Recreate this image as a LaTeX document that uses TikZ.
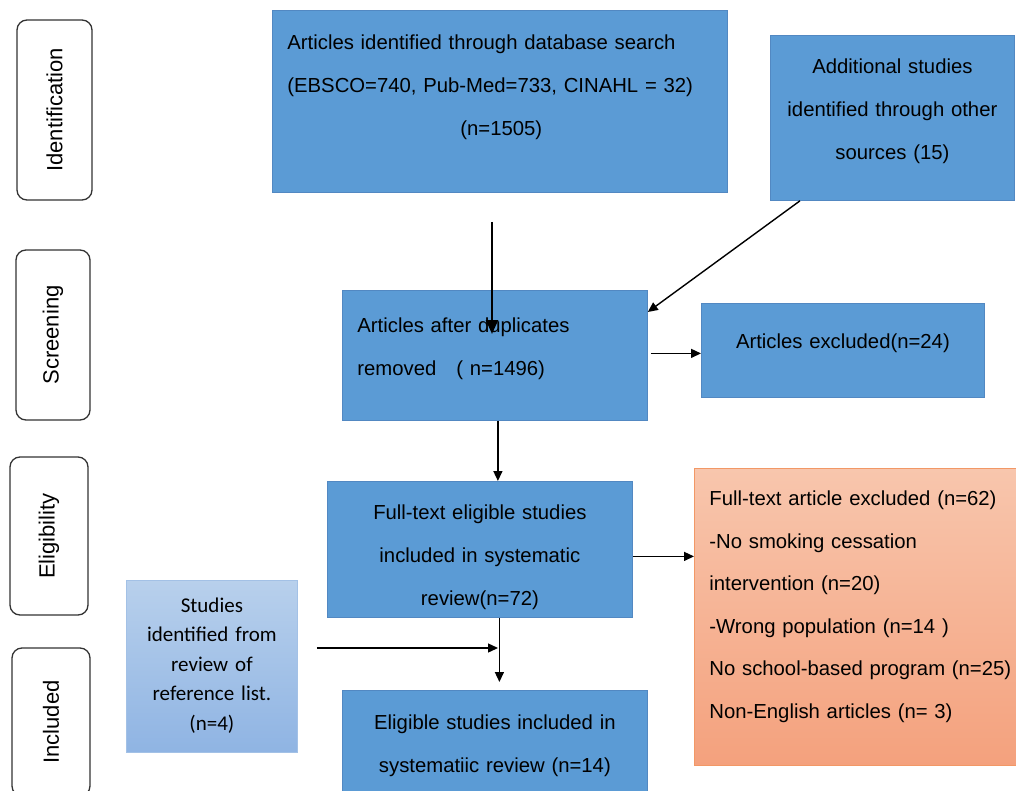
\documentclass[tikz,border=0pt]{standalone}
\usepackage{fontspec}
\setmainfont{Liberation Sans}
\newfontfamily\calib{Carlito}
\usepackage{tikz}
\usetikzlibrary{arrows.meta}

\definecolor{boxblue}{HTML}{5B9BD5}
\definecolor{boxline}{HTML}{5288C2}
\definecolor{orgtop}{HTML}{F8C6AD}
\definecolor{orgbot}{HTML}{F4A17D}
\definecolor{orgline}{HTML}{F29866}
\definecolor{refltop}{HTML}{B8D0EC}
\definecolor{reflbot}{HTML}{8FB4E3}
\definecolor{reflline}{HTML}{A3C1E6}

\begin{document}
\begin{tikzpicture}[
    x=1pt, y=-1pt,
    fase/.style={draw=black!80, line width=1.3pt, rounded corners=10pt, rotate=90,
                 font=\fontsize{22}{26}\selectfont},
    caja/.style={draw=boxline, line width=0.8pt, fill=boxblue, anchor=north west,
                 inner xsep=15pt, inner ysep=0pt, font=\fontsize{20.3}{43}\selectfont},
    flecha/.style={-{Triangle[length=10pt,width=9pt]}, line width=1.4pt},
    flechag/.style={-{Triangle[length=14pt,width=12pt]}, line width=2.5pt}
  ]
    \useasboundingbox (0,0) rectangle (1016,791);
    \node[fase, minimum width=180pt, minimum height=75pt] (ident) at (54.5,110) {Identification};
    \node[fase, minimum width=170pt, minimum height=74pt] (scr) at (53,335) {Screening};
    \node[fase, minimum width=158pt, minimum height=78pt] (elig) at (49,536) {Eligibility};
    \node[fase, minimum width=148pt, minimum height=78pt] (incl) at (51,722) {Included};
    \node[caja, align=left, text width=425pt, text height=39pt, text depth=143pt] (db) at (272,10)
      {Articles identified through database search\\
      (EBSCO=740, Pub-Med=733, CINAHL = 32)\\
      \hspace*{173pt}(n=1505)};
    \node[caja, align=center, inner xsep=5pt, text width=234pt, text height=38pt, text depth=127pt] (otras) at (770,35)
      {Additional studies\\ identified through other\\ sources (15)};
    \node[caja, align=left, text width=275pt, text height=42pt, text depth=88pt] (dup) at (342,290)
      {Articles after duplicates\\ removed\hspace{20pt}( n=1496)};
    \node[caja, align=center, inner xsep=5pt, text width=273pt, text height=45pt, text depth=49pt] (excl) at (701,303)
      {Articles excluded(n=24)};
    \node[caja, align=center, inner xsep=5pt, text width=295pt, text height=38pt, text depth=98pt] (full) at (327,481)
      {Full-text eligible studies\\ included in systematic\\ review(n=72)};
    \node[caja, draw=orgline, top color=orgtop, bottom color=orgbot, align=left, text width=292pt,
          text height=37pt, text depth=260pt, font=\fontsize{20.3}{42.6}\selectfont] (ftexcl) at (694,468)
      {Full-text article excluded (n=62)\\
      -No smoking cessation\\
      intervention (n=20)\\
      -Wrong population (n=14 )\\
      \mbox{No school-based program (n=25)}\\
      Non-English articles (n= 3)};
    \node[caja, draw=reflline, top color=refltop, bottom color=reflbot, align=center, inner xsep=5pt,
          text width=161pt, text height=32pt, text depth=140pt, font=\calib\fontsize{21}{29.5}\selectfont] (refl) at (126,580)
      {Studies\\ identified from\\ review of\\ reference list.\\ (n=4)};
    \node[caja, align=center, inner xsep=5pt, text width=295pt, text height=39pt, text depth=71pt] (final) at (342,690)
      {Eligible studies included in\\ systematiic review (n=14)};
    \coordinate (dbout) at (492,222);
    \coordinate (dupin) at (492,334);
    \coordinate (mrg) at (498,648);
    \draw[flechag] (dbout) -- (dupin);
    \draw[flecha] ([xshift=30pt]otras.south west) -- ([yshift=-22pt]dup.north east);
    \draw[flecha, shorten <=3pt] ([yshift=2pt]dup.east) -- ([yshift=2pt]dup.east -| excl.west);
    \draw[flecha] ([xshift=3pt]dup.south) -- ([xshift=3pt]dup.south |- full.north);
    \draw[flecha] ([yshift=-7pt]full.east) -- ([yshift=-7pt]full.east -| ftexcl.west);
    \draw[flecha, shorten >=8pt] ([xshift=19.5pt]full.south) -- ([xshift=19.5pt]full.south |- final.north);
    \draw[flecha] ([xshift=19pt]refl.east |- mrg) -- (mrg);
  \end{tikzpicture}
\end{document}
